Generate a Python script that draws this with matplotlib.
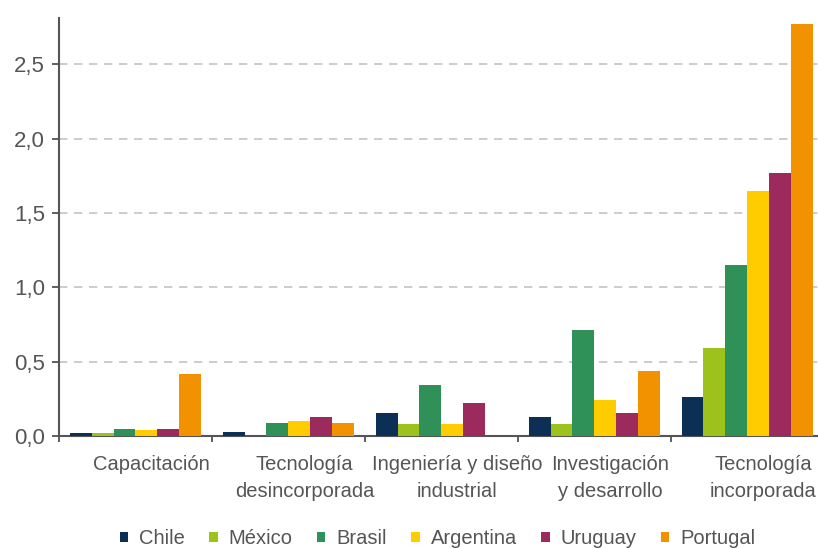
import numpy as np
import matplotlib.pyplot as plt
import matplotlib.transforms as mtrans
from matplotlib.ticker import FixedLocator, FuncFormatter

# datos
categorias = ["Capacitación", "Tecnología\ndesincorporada", "Ingeniería y diseño\nindustrial",
              "Investigación\ny desarrollo", "Tecnología\nincorporada"]
paises = ["Chile", "México", "Brasil", "Argentina", "Uruguay", "Portugal"]
chile = [0.02, 0.03, 0.155, 0.13, 0.26]
mexico = [0.02, 0.0, 0.08, 0.08, 0.59]
brasil = [0.05, 0.09, 0.34, 0.71, 1.15]
argentina = [0.04, 0.10, 0.08, 0.24, 1.65]
uruguay = [0.05, 0.13, 0.22, 0.155, 1.77]
portugal = [0.42, 0.09, 0.0, 0.44, 2.77]
series = [chile, mexico, brasil, argentina, uruguay, portugal]
colores = ["#0b2f55", "#9dc21b", "#2f9158", "#ffcc00", "#9c2a5d", "#f39200"]

plt.rcParams["font.family"] = ["Liberation Sans", "DejaVu Sans"]
gris = "#555555"
fs = 14.5

fig = plt.figure(figsize=(8.18, 5.48), dpi=100)
ax = fig.add_axes([0.072, 0.2044, 0.935, 0.7626])

x = np.arange(len(categorias))
ancho = 0.143
for i, (pais, vals, c) in enumerate(zip(paises, series, colores)):
    ax.bar(x + (i - 2.5) * ancho, vals, ancho, color=c, label=pais, zorder=3)

ax.set_xlim(-0.5, 4.5)
ax.set_ylim(0, 2.81)
yt = [0, 0.5, 1.0, 1.5, 2.0, 2.5]
ax.set_yticks(yt)
ax.yaxis.set_major_formatter(FuncFormatter(lambda v, p: f"{v:.1f}".replace(".", ",")))
for v in yt[1:]:
    ax.axhline(v, color="#c4c4c4", lw=1.2, ls=(0, (5, 4)), zorder=1)

ax.xaxis.set_major_locator(FixedLocator([-0.5, 0.5, 1.5, 2.5, 3.5]))
ax.set_xticklabels([])
ax.xaxis.set_minor_locator(FixedLocator(x))
ax.set_xticklabels(categorias, minor=True)
ax.tick_params(axis="x", which="minor", length=0, pad=14, labelsize=fs, labelcolor=gris)
ax.tick_params(axis="x", which="major", length=4, width=1.2, color="#444444", direction="out")
ax.tick_params(axis="y", length=5, width=1.2, color="#444444", labelsize=16, labelcolor=gris, pad=5)
# en el original las etiquetas van algo corridas a la derecha
desplaza = mtrans.ScaledTranslation(16 / 100, 0, fig.dpi_scale_trans)
for lab in ax.get_xticklabels(minor=True):
    lab.set_linespacing(1.5)
    lab.set_transform(lab.get_transform() + desplaza)

for s in ["top", "right"]:
    ax.spines[s].set_visible(False)
for s in ["left", "bottom"]:
    ax.spines[s].set_color("#555555")
    ax.spines[s].set_linewidth(1.5)

fig.legend(loc="center", bbox_to_anchor=(0.535, 0.017), ncol=6, frameon=False,
           fontsize=fs, labelcolor=gris, handlelength=0.42, handleheight=0.42,
           handletextpad=0.55, columnspacing=1.2, borderpad=0)

fig.savefig("out.png", dpi=100)
